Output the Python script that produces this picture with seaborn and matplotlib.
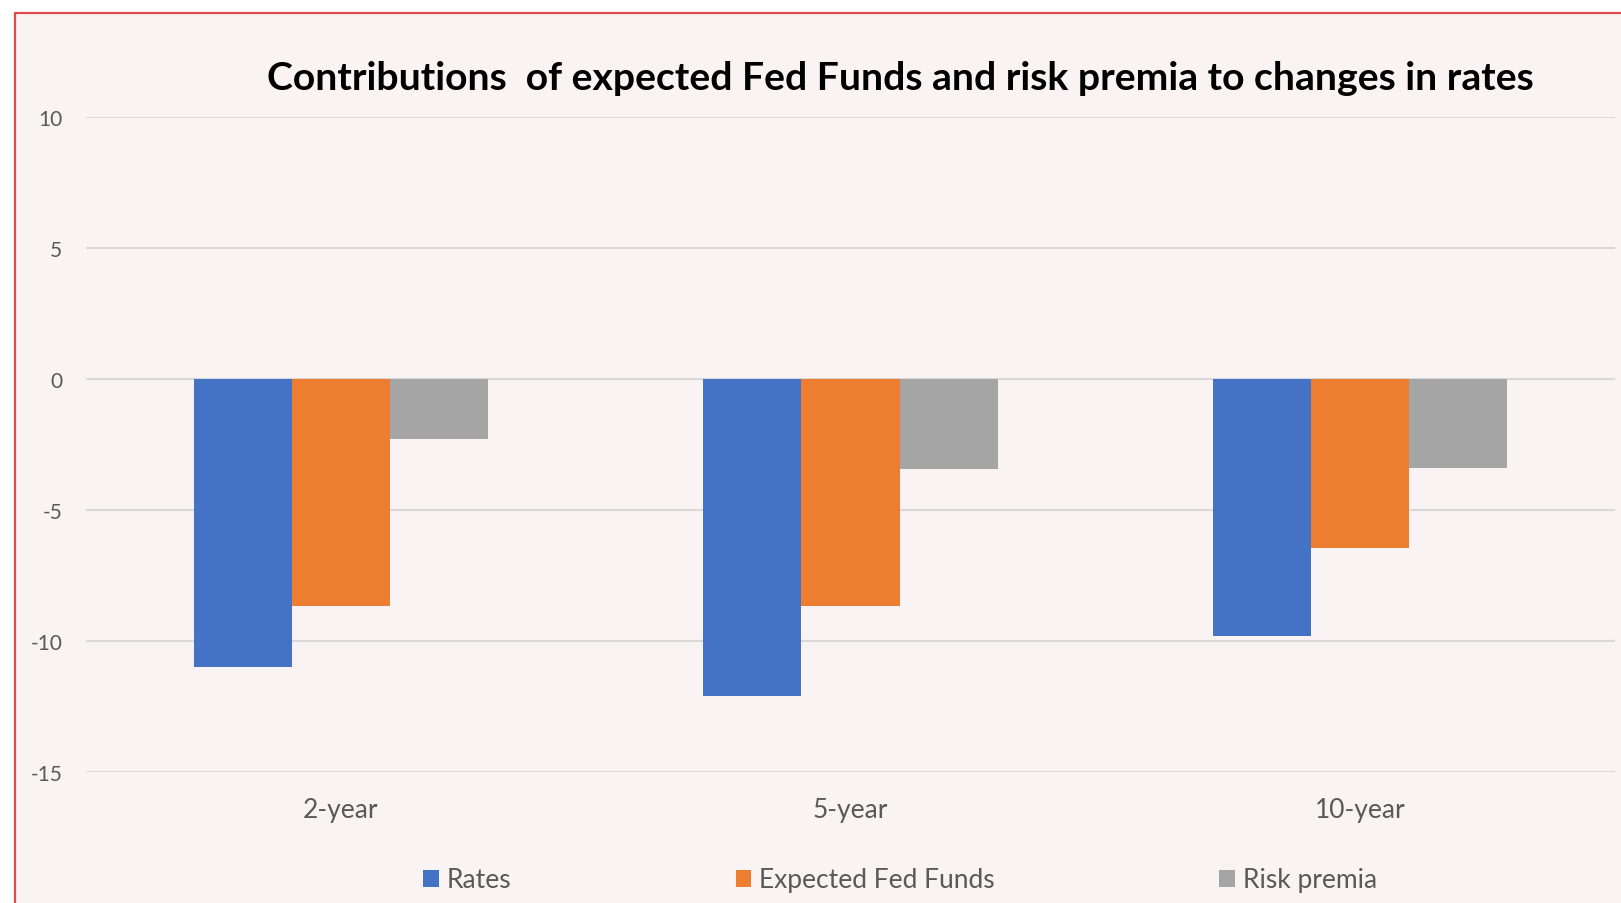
import pandas as pd
import matplotlib
matplotlib.use("Agg")
import matplotlib.pyplot as plt
import seaborn as sns
from matplotlib.patches import Rectangle

# values (basis points)
maturities = ["2-year", "5-year", "10-year"]
series_names = ["Rates", "Expected Fed Funds", "Risk premia"]
rates = [-11.0, -12.1, -9.8]
expected_ff = [-8.65, -8.65, -6.45]
risk_premia = [-2.3, -3.45, -3.4]
y_ticks = [10, 5, 0, -5, -10, -15]

colors = ["#4472C4", "#ED7D31", "#A5A5A5"]
bg = "#F9F3F3"

df = pd.DataFrame({
    "maturity": maturities * 3,
    "series": [s for s in series_names for _ in maturities],
    "value": rates + expected_ff + risk_premia,
})

sns.set_theme(style="white")
plt.rcParams["font.family"] = ["Lato", "DejaVu Sans"]
plt.rcParams["axes.unicode_minus"] = False

W, H = 1621, 904
fig = plt.figure(figsize=(W / 100, H / 100), dpi=100, facecolor="white")
# chart area with red frame (cropped screenshot look)
fig.patches.append(Rectangle((15 / W, -0.1), 1.2, 1.1 - 14 / H, transform=fig.transFigure,
                             facecolor=bg, edgecolor="#E04B4B", linewidth=1.6, zorder=-5))

ax = fig.add_axes([86 / W, 1 - 773 / H, (1615 - 86) / W, (773 - 118) / H])
ax.set_zorder(2)
ax.set_facecolor("none")

sns.barplot(data=df, x="maturity", y="value", hue="series", order=maturities,
            hue_order=series_names, palette=colors, width=0.577, saturation=1,
            errorbar=None, linewidth=0, ax=ax, zorder=3)

ax.set_ylim(-15, 10)
ax.set_xlim(-0.5, 2.5)
ax.set_yticks(y_ticks)
ax.set_yticklabels([str(t) for t in y_ticks])
ax.yaxis.grid(True, color="#D9D9D9", linewidth=1.5, zorder=0)
ax.set_axisbelow(True)
for s in ax.spines.values():
    s.set_visible(False)
ax.tick_params(axis="y", length=0, pad=17, labelsize=15, labelcolor="#595959")
ax.tick_params(axis="x", length=0, pad=18, labelsize=19, labelcolor="#595959")
ax.set_xlabel("")
ax.set_ylabel("")

ax.legend(loc="center", bbox_to_anchor=(900 / W, 1 - 881 / H), bbox_transform=fig.transFigure,
          ncol=3, frameon=False, fontsize=19, labelcolor="#595959",
          handlelength=0.6, handleheight=0.6, handletextpad=0.3, columnspacing=8.5)

fig.text(900 / W, 1 - 78 / H,
         "Contributions  of expected Fed Funds and risk premia to changes in rates",
         ha="center", va="center", fontsize=28.2, fontweight="bold", color="black")

fig.savefig("out.png", dpi=100, facecolor="white")
